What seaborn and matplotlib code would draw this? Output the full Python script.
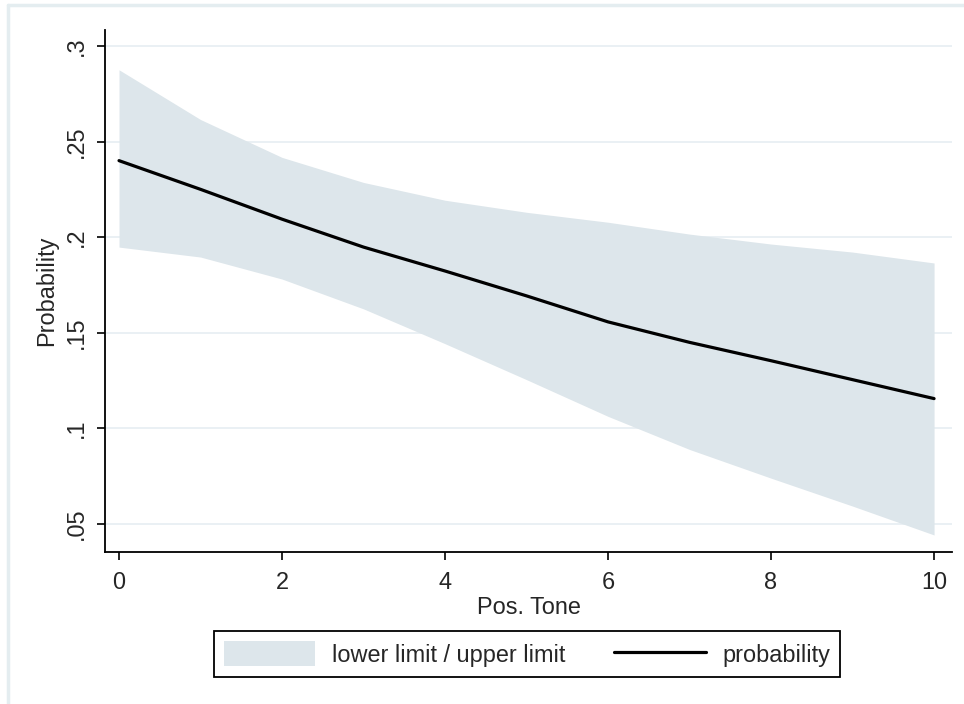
import matplotlib

matplotlib.use("Agg")
import matplotlib.pyplot as plt
import seaborn as sns

# predicted probability by positive tone, with confidence limits
pos_tone = [0, 1, 2, 3, 4, 5, 6, 7, 8, 9, 10]
probability = [0.2400, 0.2250, 0.2094, 0.1948, 0.1823, 0.1693,
               0.1557, 0.1450, 0.1354, 0.1255, 0.1156]
upper_limit = [0.2875, 0.2615, 0.2417, 0.2286, 0.2193, 0.2130,
               0.2078, 0.2016, 0.1964, 0.1922, 0.1865]
lower_limit = [0.1948, 0.1896, 0.1781, 0.1625, 0.1443, 0.1255,
               0.1063, 0.0890, 0.0740, 0.0594, 0.0443]

y_ticks = [0.05, 0.10, 0.15, 0.20, 0.25, 0.30]
y_tick_labels = [".05", ".1", ".15", ".2", ".25", ".3"]
x_ticks = [0, 2, 4, 6, 8, 10]

BAND = "#dde6eb"
GRID = "#e8eff3"
FRAME = "#e4edf0"
W, H = 964, 704
FS = 16.9


def main():
    sns.set_style("white")
    plt.rcParams["font.family"] = ["Liberation Sans", "DejaVu Sans"]
    plt.rcParams["font.size"] = FS

    fig = plt.figure(figsize=(W / 100, H / 100), dpi=100)
    ax = fig.add_axes([105 / W, 1 - 552 / H, (952 - 105) / W, (552 - 30) / H])

    ax.fill_between(pos_tone, lower_limit, upper_limit, color=BAND,
                    linewidth=0, label="lower limit / upper limit")
    sns.lineplot(x=pos_tone, y=probability, color="black", linewidth=2.3,
                 ax=ax, label="probability")

    ax.set_xlim(-0.172, 10.22)
    ax.set_ylim(0.0354, 0.3083)
    ax.set_xticks(x_ticks)
    ax.set_xticklabels([str(t) for t in x_ticks])
    ax.set_yticks(y_ticks)
    ax.set_yticklabels(y_tick_labels, rotation=90, va="center")
    ax.set_xlabel("Pos. Tone", fontsize=FS, labelpad=1)
    ax.set_ylabel("Probability", fontsize=FS, labelpad=5)

    ax.yaxis.grid(True, color=GRID, linewidth=1.3)
    ax.xaxis.grid(False)
    ax.set_axisbelow(True)
    ax.spines[["top", "right"]].set_visible(False)
    for side in ["left", "bottom"]:
        ax.spines[side].set_color("black")
        ax.spines[side].set_linewidth(1.3)
    ax.tick_params(axis="both", direction="out", length=6, width=1.2,
                   color="black", labelsize=FS, bottom=True, left=True)
    ax.tick_params(axis="x", pad=8)
    ax.tick_params(axis="y", pad=6)

    leg = ax.legend(
        loc="center",
        bbox_to_anchor=(527 / W, 1 - 654 / H),
        bbox_transform=fig.transFigure,
        ncol=2,
        frameon=True,
        fancybox=False,
        framealpha=1,
        edgecolor="black",
        fontsize=FS,
        handlelength=3.9,
        handleheight=1.25,
        handletextpad=0.7,
        columnspacing=2.1,
        borderpad=0.42,
    )
    leg.get_frame().set_linewidth(1.3)

    # light outline of the graph region (only top and left visible)
    fig.add_artist(plt.Line2D([8 / W, 1], [1 - 5 / H, 1 - 5 / H],
                              color=FRAME, linewidth=2.5,
                              transform=fig.transFigure))
    fig.add_artist(plt.Line2D([8 / W, 8 / W], [0, 1 - 5 / H],
                              color=FRAME, linewidth=2.5,
                              transform=fig.transFigure))

    fig.savefig("out.png", dpi=100)
    plt.close(fig)


if __name__ == "__main__":
    main()
